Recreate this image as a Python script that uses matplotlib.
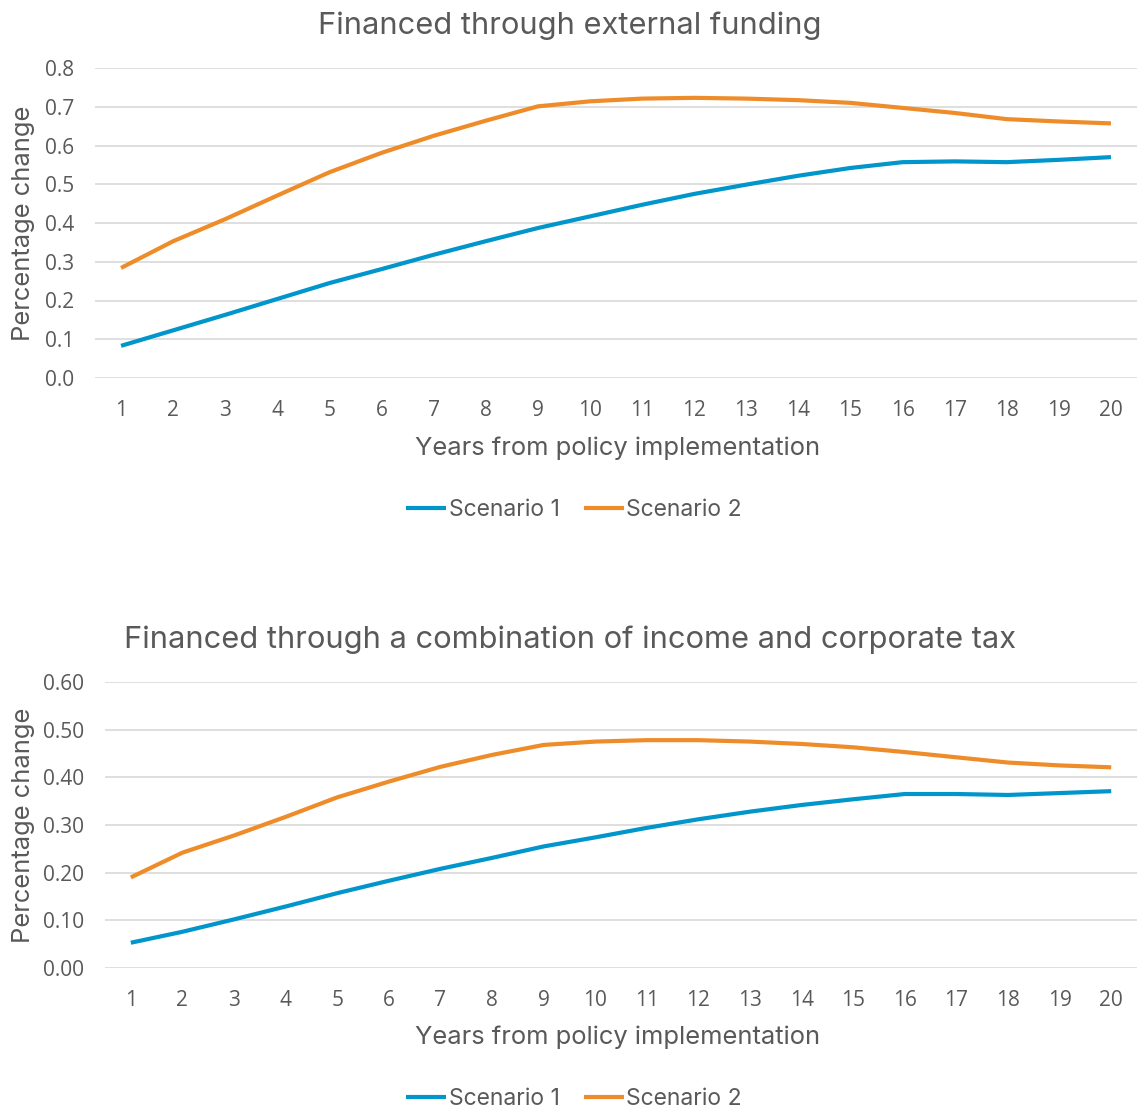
import matplotlib.pyplot as plt
from matplotlib.ticker import FormatStrFormatter

plt.rcParams['font.family'] = ['Inter', 'DejaVu Sans']

years = list(range(1, 21))

# external funding
ext_s1 = [0.083, 0.123, 0.163, 0.204, 0.245, 0.281, 0.318, 0.353, 0.387, 0.417,
          0.447, 0.475, 0.499, 0.522, 0.542, 0.557, 0.559, 0.557, 0.563, 0.570]
ext_s2 = [0.284, 0.353, 0.410, 0.471, 0.531, 0.581, 0.625, 0.664, 0.701, 0.714,
          0.721, 0.723, 0.721, 0.717, 0.710, 0.697, 0.684, 0.668, 0.662, 0.657]

# income + corporate tax
tax_s1 = [0.053, 0.076, 0.102, 0.129, 0.157, 0.183, 0.208, 0.231, 0.255, 0.274,
          0.294, 0.312, 0.328, 0.342, 0.354, 0.365, 0.365, 0.363, 0.367, 0.371]
tax_s2 = [0.190, 0.242, 0.278, 0.317, 0.358, 0.391, 0.422, 0.447, 0.468, 0.475,
          0.478, 0.478, 0.475, 0.470, 0.463, 0.453, 0.442, 0.431, 0.425, 0.421]

series_names = ["Scenario 1", "Scenario 2"]
colors = ["#0096CB", "#EE8C2A"]
text_col = "#595959"

W, H = 1137, 1109
fig = plt.figure(figsize=(W / 100, H / 100), dpi=100)


def px_axes(left, top, right, bottom):
    return fig.add_axes([left / W, 1 - bottom / H, (right - left) / W, (bottom - top) / H])


def draw(ax, s1, s2, title, yticks, fmt, title_y, xlab_y, leg_y, ylab_y):
    for vals, name, c in zip([s1, s2], series_names, colors):
        ax.plot(years, vals, color=c, lw=3, label=name, solid_capstyle='butt')
    ax.set_xlim(0.5, 20.5)
    ax.set_ylim(yticks[0], yticks[-1])
    ax.set_yticks(yticks)
    ax.yaxis.set_major_formatter(FormatStrFormatter(fmt))
    ax.set_xticks(years)
    ax.grid(axis='y', color='#D9D9D9', lw=1.2)
    ax.set_axisbelow(True)
    for s in ax.spines.values():
        s.set_visible(False)
    ax.tick_params(length=0, labelsize=15, colors=text_col)
    ax.tick_params(axis='x', pad=16)
    ax.tick_params(axis='y', pad=15)
    for lab in ax.get_xticklabels() + ax.get_yticklabels():
        lab.set_fontfamily(['Open Sans', 'DejaVu Sans'])
    fig.text(570 / W, 1 - title_y / H, title, ha='center', va='center',
             fontsize=22.2, color=text_col)
    fig.text(618 / W, 1 - xlab_y / H, "Years from policy implementation",
             ha='center', va='center', fontsize=18.4, color=text_col)
    ax.set_ylabel("Percentage change", fontsize=18.4, color=text_col)
    ax.yaxis.set_label_coords(35 / W, 1 - ylab_y / H, transform=fig.transFigure)
    handles, labels = ax.get_legend_handles_labels()
    fig.legend(handles, labels, loc='center', bbox_to_anchor=(574 / W, 1 - leg_y / H),
               ncol=2, frameon=False, fontsize=16.5, handlelength=1.75, handletextpad=0.1,
               columnspacing=1.05, labelcolor=text_col)


ax1 = px_axes(95, 68, 1137, 378)
draw(ax1, ext_s1, ext_s2, "Financed through external funding",
     [0.0, 0.1, 0.2, 0.3, 0.4, 0.5, 0.6, 0.7, 0.8], '%.1f', 26, 448, 510, 223)

ax2 = px_axes(105, 682, 1137, 968)
draw(ax2, tax_s1, tax_s2, "Financed through a combination of income and corporate tax",
     [0.0, 0.1, 0.2, 0.3, 0.4, 0.5, 0.6], '%.2f', 640, 1037, 1099, 825)

fig.savefig("out.png", dpi=100)
